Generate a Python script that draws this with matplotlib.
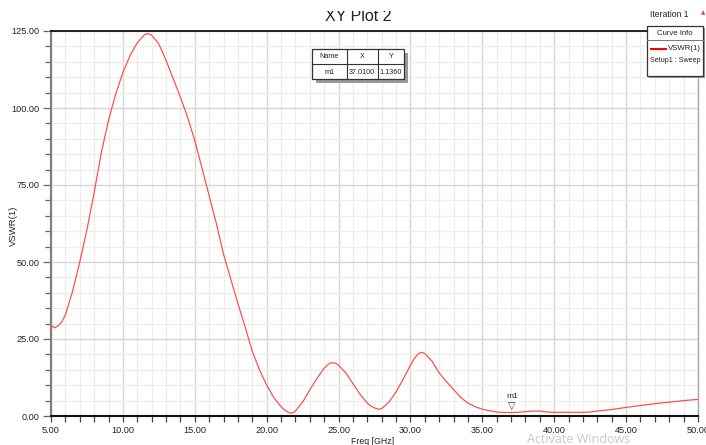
import matplotlib
matplotlib.use("Agg")
import matplotlib.pyplot as plt
from matplotlib.patches import Rectangle
from matplotlib.lines import Line2D
from matplotlib.transforms import Bbox
from matplotlib.ticker import MultipleLocator, FormatStrFormatter

# ---- data ----
freq = [5.0, 5.25, 5.5, 5.75, 6.0, 6.5, 7.0, 7.5, 8.0, 8.5, 9.0, 9.5, 10.0, 10.5,
        11.0, 11.5, 11.75, 12.0, 12.5, 13.0, 13.5, 14.0, 14.5, 15.0, 15.5, 16.0,
        16.5, 17.0, 17.5, 18.0, 18.5, 19.0, 19.5, 20.0, 20.5, 21.0, 21.25, 21.5,
        21.7, 21.85, 22.0, 22.5, 23.0, 23.5, 24.0, 24.25, 24.5, 24.75, 25.0, 25.5,
        26.0, 26.5, 27.0, 27.25, 27.5, 27.8, 28.0, 28.5, 29.0, 29.5, 30.0, 30.25,
        30.5, 30.75, 31.0, 31.5, 32.0, 32.5, 33.0, 33.5, 34.0, 34.5, 35.0, 35.5,
        36.0, 36.5, 37.0, 37.5, 38.0, 38.5, 39.0, 39.5, 40.0, 41.0, 42.0, 42.5,
        43.0, 44.0, 45.0, 46.0, 47.0, 48.0, 49.0, 50.0]
vswr = [29.5, 28.6, 29.3, 30.6, 32.8, 40.5, 50.0, 60.5, 72.5, 85.5, 96.0, 104.5,
        111.5, 117.0, 121.2, 123.8, 124.2, 123.6, 120.8, 115.5, 109.5, 103.5, 97.0,
        89.5, 80.5, 71.5, 62.5, 52.5, 44.5, 36.5, 29.0, 21.0, 15.0, 10.0, 6.0, 3.0,
        2.0, 1.2, 0.9, 1.1, 1.6, 4.5, 8.5, 12.2, 15.5, 16.7, 17.3, 17.2, 16.5, 14.0,
        10.5, 7.0, 4.2, 3.2, 2.6, 2.2, 2.4, 4.5, 7.8, 12.0, 16.5, 18.5, 20.0, 20.7,
        20.3, 17.8, 14.0, 11.2, 8.6, 6.0, 4.2, 3.0, 2.2, 1.7, 1.3, 1.15, 1.14, 1.2,
        1.4, 1.6, 1.6, 1.3, 1.2, 1.2, 1.2, 1.3, 1.6, 2.1, 2.8, 3.4, 4.0, 4.5, 5.0,
        5.4]

marker_name = "m1"
marker_x = 37.01
marker_y = 1.136

title = "XY Plot 2"
xlabel = "Freq [GHz]"
ylabel = "VSWR(1)"
legend_label = "VSWR(1)"
legend_sub = "Setup1 : Sweep"

# ---- figure ----
W, H = 706, 445
fig = plt.figure(figsize=(W / 100, H / 100), dpi=100)
fig.patch.set_facecolor("white")

FONT = ["Liberation Sans", "DejaVu Sans"]
plt.rcParams["font.family"] = FONT


def fx(px):
    return px / W


def fy(py):
    return 1 - py / H


L, R, T, B = 51, 698, 31, 416
ax = fig.add_axes([fx(L), fy(B), fx(R) - fx(L), fy(T) - fy(B)])

ax.plot(freq, vswr, color="#ff4848", lw=0.85, zorder=3)
ax.set_xlim(5, 50)
ax.set_ylim(0, 125)

ax.xaxis.set_major_locator(MultipleLocator(5))
ax.xaxis.set_minor_locator(MultipleLocator(1))
ax.yaxis.set_major_locator(MultipleLocator(25))
ax.yaxis.set_minor_locator(MultipleLocator(5))
ax.xaxis.set_major_formatter(FormatStrFormatter("%.2f"))
ax.yaxis.set_major_formatter(FormatStrFormatter("%.2f"))

ax.grid(True, which="major", color="#d6d6d6", lw=1.0, zorder=0)
ax.grid(True, which="minor", color="#ededed", lw=0.9, zorder=0)
ax.set_axisbelow(True)

ax.tick_params(axis="both", which="major", labelsize=6.6, colors="#333333",
               labelcolor="#222222")
ax.tick_params(axis="x", which="both", direction="out", length=4, width=0.9,
               pad=3, color="#444444")
ax.tick_params(axis="y", which="major", direction="out", length=6, width=0.9,
               pad=2, color="#666666")
ax.tick_params(axis="y", which="minor", direction="out", length=4, width=0.9,
               color="#666666")

ax.spines["left"].set_color("#808080")
ax.spines["left"].set_linewidth(1.6)
ax.spines["bottom"].set_color("#111111")
ax.spines["bottom"].set_linewidth(1.5)
ax.spines["top"].set_color("#111111")
ax.spines["top"].set_linewidth(1.3)
ax.spines["right"].set_color("#a8a8a8")
ax.spines["right"].set_linewidth(1.0)

# marker
ax.annotate("\u25BD", xy=(marker_x, marker_y), xytext=(0, 1.2),
            textcoords="offset points", ha="center", va="bottom",
            fontsize=7, family="DejaVu Sans", color="#333333", zorder=5)
ax.annotate(marker_name, xy=(marker_x, marker_y), xytext=(1, 9),
            textcoords="offset points", ha="center", va="bottom",
            fontsize=6, color="#222222", zorder=5)

# axis labels
fig.text(fx(13), fy(226), ylabel, rotation=90, ha="center", va="center",
         fontsize=6.8, color="#222222")
fig.text(fx(373), fy(437), xlabel, ha="center", va="top", fontsize=6.3,
         color="#222222")

# title (top clipped like the reference)
t = fig.text(fx(358), fy(20.8), title, ha="center", va="baseline", fontsize=11.5,
             color="#222222", zorder=3)
t.set_clip_box(Bbox([[0, 0], [W, H - 11]]))
t.set_clip_on(True)

fig.text(fx(689), fy(17.3), "Iteration 1", ha="right", va="baseline",
         fontsize=6.2, color="#222222", zorder=6)
fig.text(fx(703), fy(13), "\u25B2", ha="center", va="center", fontsize=4,
         family="DejaVu Sans", color="#c05050", zorder=6)


def box(x0, y0, x1, y1, z=10, shadow=3):
    fig.patches.append(Rectangle((fx(x0 + shadow), fy(y1 + shadow)),
                                 fx(x1 - x0), fy(y0) - fy(y1),
                                 transform=fig.transFigure, facecolor="#9a9a9a",
                                 edgecolor="none", zorder=z))
    fig.patches.append(Rectangle((fx(x0), fy(y1)), fx(x1 - x0), fy(y0) - fy(y1),
                                 transform=fig.transFigure, facecolor="white",
                                 edgecolor="#333333", lw=0.9, zorder=z + 1))


def hline(x0, x1, y, z=12, color="#333333", lw=0.8):
    fig.lines.append(Line2D([fx(x0), fx(x1)], [fy(y), fy(y)], transform=fig.transFigure,
                            color=color, lw=lw, zorder=z))


def vline(x, y0, y1, z=12):
    fig.lines.append(Line2D([fx(x), fx(x)], [fy(y0), fy(y1)], transform=fig.transFigure,
                            color="#333333", lw=0.8, zorder=z))


# marker table
box(312, 49, 404, 79, shadow=4)
hline(312, 404, 64)
vline(346.7, 49, 79)
vline(377.7, 49, 79)
for cx, s in [(329.3, "Name"), (362.2, "X"), (391, "Y")]:
    fig.text(fx(cx), fy(57), s, ha="center", va="center", fontsize=5.2,
             color="#222222", zorder=13)
for cx, s in [(329.3, marker_name), (362.2, "%.4f" % marker_x), (391, "%.4f" % marker_y)]:
    fig.text(fx(cx), fy(72), s, ha="center", va="center", fontsize=5.2,
             color="#222222", zorder=13)

# curve info legend
box(647, 26, 703, 76, shadow=2)
fig.text(fx(675), fy(33.5), "Curve Info", ha="center", va="center", fontsize=5.6,
         color="#222222", zorder=13)
hline(647, 703, 39.5, color="#777777", lw=0.7)
hline(651, 666, 48.7, color="#ff0000", lw=1.5)
fig.text(fx(701), fy(48.7), legend_label, ha="right", va="center", fontsize=5.6,
         color="#222222", zorder=13)
fig.text(fx(650), fy(61), legend_sub, ha="left", va="center", fontsize=5.1,
         color="#222222", zorder=13)

# watermark text present in the reference screenshot
fig.text(fx(527), fy(433), "Activate Windows", ha="left", va="top", fontsize=9,
         family=["Open Sans", "DejaVu Sans"], color="#c8c8c8", zorder=2)

fig.savefig("out.png", dpi=100)
